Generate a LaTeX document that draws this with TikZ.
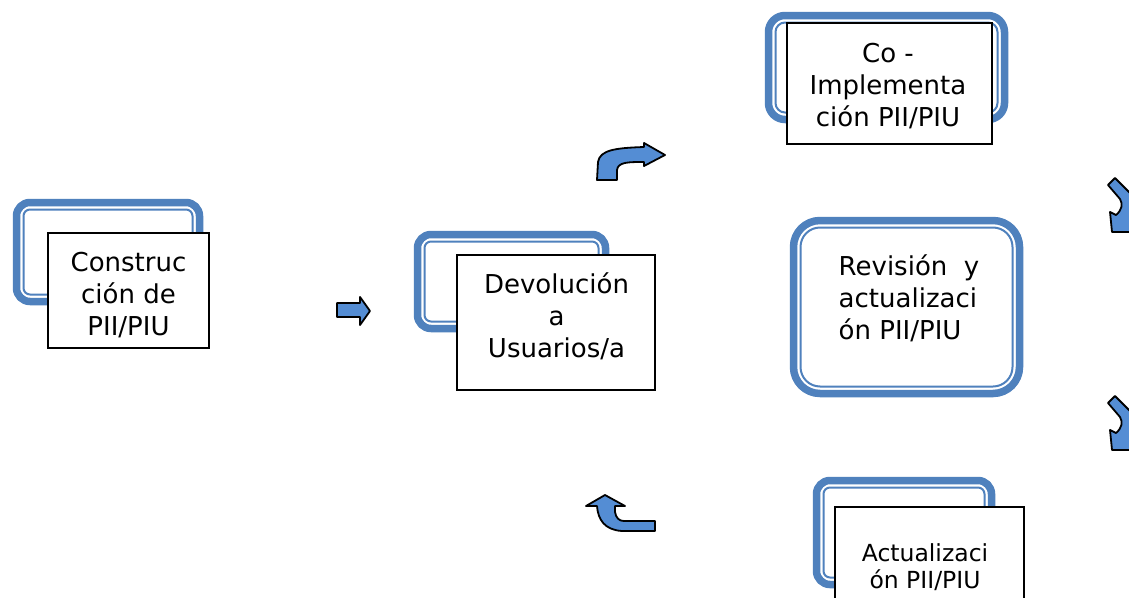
\documentclass[tikz,border=0pt]{standalone}
\usepackage{fontspec}
\setmainfont{DejaVu Sans}
\definecolor{frameblue}{RGB}{79,129,189}
\definecolor{arrowblue}{RGB}{84,141,212}
\begin{document}
\begin{tikzpicture}[x=1pt,y=-1pt,
  frameA/.style={draw=frameblue, line width=7.5pt, fill=white},
  frameB/.style={draw=frameblue, line width=2pt},
  wbox/.style={draw=black, line width=1.3pt, fill=white, rectangle, inner sep=0pt},
  txt/.style={font=\fontsize{26}{32}\selectfont, align=center, inner sep=0pt},
  txtsmall/.style={font=\fontsize{23.5}{27.6}\selectfont, align=center, inner sep=0pt},
  blockarrow/.style={draw=black, fill=arrowblue, line width=1.8pt, line join=round}]
\path[use as bounding box, clip] (0,0) rectangle (1129,597);
\fill[white] (0,0) rectangle (1129,597);

% frames
\draw[frameA, rounded corners=13.5pt] (16.5,202.5) rectangle (199.5,301.5);
\draw[frameB, rounded corners=6.5pt] (23.5,209.5) rectangle (192.5,294.5);

\draw[frameA, rounded corners=13.5pt] (417.5,234.5) rectangle (605.5,328.5);
\draw[frameB, rounded corners=6.5pt] (424.5,241.5) rectangle (598.5,321.5);

\draw[frameA, rounded corners=16.5pt] (768.5,15.5) rectangle (1004.5,119.5);
\draw[frameB, rounded corners=9.5pt] (775.5,22.5) rectangle (997.5,112.5);

\draw[frameA, rounded corners=26.5pt] (793.5,220.5) rectangle (1019.5,393.5);
\draw[frameB, rounded corners=19.5pt] (800.5,227.5) rectangle (1012.5,386.5);

\draw[frameA, rounded corners=13.5pt] (816.5,480.5) rectangle (991.5,584.5);
\draw[frameB, rounded corners=6.5pt] (823.5,487.5) rectangle (984.5,577.5);

% white boxes
\node[wbox, minimum width=161pt, minimum height=115pt] (b1) at (128.5,290.5) {};
\node[wbox, minimum width=198pt, minimum height=135pt] (b2) at (556,322.5) {};
\node[wbox, minimum width=205pt, minimum height=121pt] (b3) at (889.5,83.5) {};
\node[wbox, minimum width=189pt, minimum height=113pt] (b5) at (929.5,563.5) {};

% texts
\node[txt] (t1) at (128.5,295.5) {Construc\\ción de\\PII/PIU};
\node[txt] (t2) at (556.5,316) {Devolución\\a\\Usuarios/a};
\node[txt] (t3) at (888,86) {Co -\\Implementa\\ción PII/PIU};
\node[txt, align=left, anchor=west] (t4) at (838.5,298) {Revisión\ \ y\\actualizaci\\ón PII/PIU};
\node[txtsmall] (t5) at (925,567) {Actualizaci\\ón PII/PIU};

% arrows
\draw[blockarrow] (337,303) -- (360,303) -- (360,297) -- (370,311) -- (360,325) -- (360,317) -- (337,317) -- cycle;

\draw[blockarrow] (597,180) -- (598,162) .. controls (600,150) and (615,148) .. (644,147)
  -- (644,143) -- (665,155) -- (644,166) -- (644,162)
  .. controls (628,162) and (618,162) .. (617,170) -- (617,180) -- cycle;

\draw[blockarrow] (655,531) -- (622,531) .. controls (605,530) and (598,520) .. (597,506)
  -- (586,506) -- (605,495) -- (625,506) -- (615,506) -- (615,512)
  .. controls (616,518) and (619,521) .. (624,521) -- (655,521) -- cycle;

\draw[blockarrow] (1108,185) -- (1115,178) -- (1140,203) -- (1140,232) -- (1112,232)
  -- (1110,212) -- (1116,215) .. controls (1122,210) and (1123,204) .. (1120,199) -- cycle;

\begin{scope}[shift={(0,218)}]
\draw[blockarrow] (1108,185) -- (1115,178) -- (1140,203) -- (1140,232) -- (1112,232)
  -- (1110,212) -- (1116,215) .. controls (1122,210) and (1123,204) .. (1120,199) -- cycle;
\end{scope}
\end{tikzpicture}
\end{document}
